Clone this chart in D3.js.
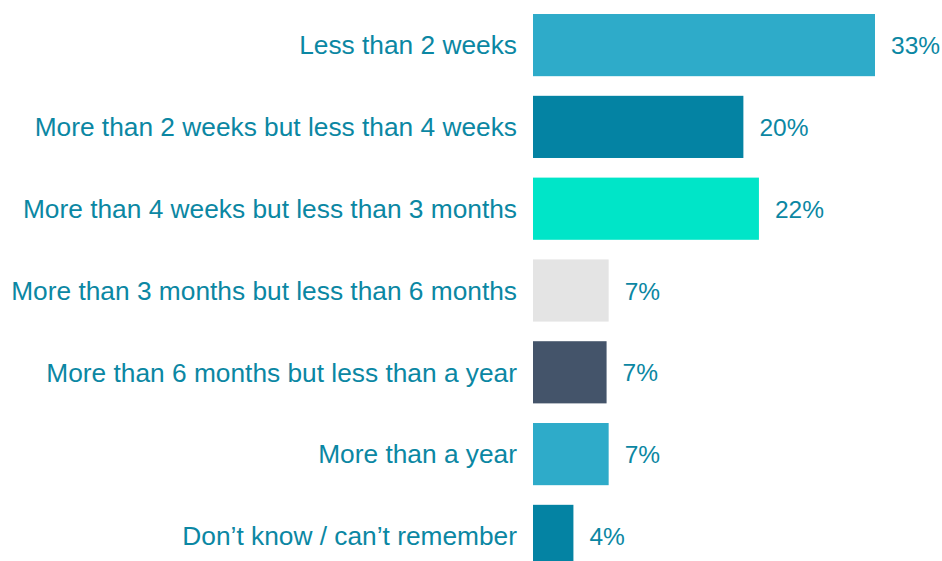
<!DOCTYPE html>
<html>
<head>
<meta charset="utf-8">
<script src="https://cdn.jsdelivr.net/npm/d3@7"></script>
<style>
  body { margin: 0; background: #fff; }
  svg text { font-family: "Liberation Sans", Arial, sans-serif; }
</style>
</head>
<body>
<div id="chart"></div>
<script>
var categories = [
    "Less than 2 weeks",
    "More than 2 weeks but less than 4 weeks",
    "More than 4 weeks but less than 3 months",
    "More than 3 months but less than 6 months",
    "More than 6 months but less than a year",
    "More than a year",
    "Don\u2019t know / can\u2019t remember"
];
var values = [0.33, 0.203, 0.218, 0.073, 0.071, 0.073, 0.039];
var colors = ["#2eabc9", "#0483a3", "#00e5c8", "#e4e4e4", "#44546a", "#2eabc9", "#0483a3"];

var svgW = 942;
var svgH = 561;
var textColor = "#0b87a3";

var svg = d3.select("#chart").append("svg")
    .attr("width", svgW).attr("height", svgH);

var data = categories.map(function(c, i) {
    return { cat: c, val: values[i], color: colors[i] };
});

var x = d3.scaleLinear().domain([0, 0.33]).range([533, 875]);
var y = d3.scaleBand().domain(categories)
    .range([4.2, 576.8]).paddingInner(0.24).paddingOuter(0.12);

var fmt = d3.format(".0%");

svg.selectAll("rect.bar")
    .data(data).enter().append("rect")
    .attr("class", "bar")
    .attr("x", x(0))
    .attr("y", d => y(d.cat))
    .attr("width", d => x(d.val) - x(0))
    .attr("height", y.bandwidth())
    .attr("fill", d => d.color);

// category labels
svg.selectAll("text.cat")
    .data(data).enter().append("text")
    .attr("class", "cat")
    .attr("x", x(0) - 16)
    .attr("y", d => y(d.cat) + y.bandwidth() / 2)
    .attr("dy", "0.35em")
    .attr("text-anchor", "end")
    .attr("font-size", 26.3)
    .attr("fill", textColor)
    .text(d => d.cat);

// value labels
svg.selectAll("text.val")
    .data(data).enter().append("text")
    .attr("class", "val")
    .attr("x", d => x(d.val) + 16)
    .attr("y", d => y(d.cat) + y.bandwidth() / 2)
    .attr("dy", "0.37em")
    .attr("font-size", 24.5)
    .attr("fill", textColor)
    .text(d => fmt(d.val));
</script>
</body>
</html>
